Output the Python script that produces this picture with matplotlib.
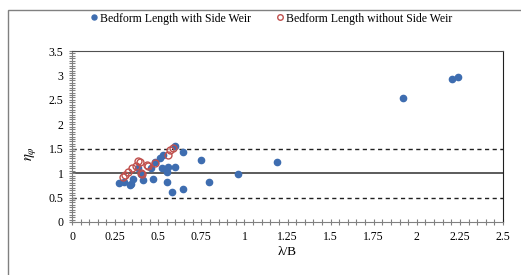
import matplotlib.pyplot as plt
from matplotlib.patches import Rectangle
from matplotlib.ticker import MultipleLocator, FuncFormatter

plt.rcParams['font.family'] = ['Liberation Serif', 'DejaVu Serif']
plt.rcParams['mathtext.fontset'] = 'stix'

# with side weir (filled blue)
with_x = [0.274, 0.30, 0.336, 0.342, 0.356, 0.385, 0.40, 0.414, 0.46, 0.47, 0.48, 0.51, 0.52,
          0.53, 0.549, 0.553, 0.559, 0.578, 0.597, 0.597, 0.642, 0.646, 0.748, 0.797, 0.961,
          1.19, 1.92, 2.206, 2.24]
with_y = [0.79, 0.82, 0.76, 0.78, 0.89, 1.10, 0.98, 0.86, 1.10, 0.89, 1.23, 1.30, 1.10,
          1.37, 1.03, 0.81, 1.13, 0.61, 1.12, 1.56, 1.44, 0.67, 1.27, 0.81, 0.99,
          1.22, 2.53, 2.92, 2.97]

# without side weir (hollow red)
without_x = [0.298, 0.31, 0.327, 0.346, 0.37, 0.385, 0.394, 0.40, 0.404, 0.433, 0.443, 0.48,
             0.559, 0.568, 0.588]
without_y = [0.93, 0.97, 1.03, 1.10, 1.15, 1.25, 1.23, 1.0, 0.975, 1.17, 1.15, 1.2,
             1.37, 1.47, 1.52]

fig = plt.figure(figsize=(5.21, 2.75), dpi=100)
fig.patches.append(Rectangle((8 / 521, -0.1), 1.2, 1 - 10 / 275 + 0.1, transform=fig.transFigure,
                             fill=False, edgecolor='#808080', lw=1.0))
ax = fig.add_axes([72 / 521, 1 - 222 / 275, 431 / 521, 171 / 275])

ax.axhline(1.0, color='#404040', lw=1.2, zorder=1)
ax.axhline(0.5, color='#202020', lw=1.0, ls=(0, (3, 2.5)), zorder=1)
ax.axhline(1.5, color='#202020', lw=1.0, ls=(0, (3, 2.5)), zorder=1)

ax.plot(with_x, with_y, 'o', color='#3E6DB0', ms=4.5, ls='none', label='Bedform Length with Side Weir', zorder=3)
ax.plot(without_x, without_y, 'o', mfc='none', mec='#C0504D', mew=1.0, ms=5, ls='none',
        label='Bedform Length without Side Weir', zorder=4)

ax.set_xlim(0, 2.5)
ax.set_ylim(0, 3.5)
ax.xaxis.set_major_locator(MultipleLocator(0.25))
ax.xaxis.set_minor_locator(MultipleLocator(0.05))
ax.yaxis.set_major_locator(MultipleLocator(0.5))
ax.yaxis.set_minor_locator(MultipleLocator(0.05))
fmt = FuncFormatter(lambda v, p: '{:g}'.format(round(v, 2)))
ax.xaxis.set_major_formatter(fmt)
ax.yaxis.set_major_formatter(fmt)
ax.tick_params(which='both', direction='inout', color='#808080', labelsize=8.5, width=0.8)
ax.tick_params(which='major', length=5)
ax.tick_params(which='minor', length=4)
ax.tick_params(axis='x', pad=4)
for s in ['left', 'bottom']:
    ax.spines[s].set_color('#808080')
ax.spines['top'].set_color('#505050')
ax.spines['right'].set_color('#202020')

ax.set_xlabel('λ/B', fontsize=9.5, labelpad=2)
ax.set_ylabel(r'$\eta_{\varphi}$', fontsize=10.5)
ax.yaxis.set_label_coords(-0.078, 0.4)

ax.legend(loc='center', bbox_to_anchor=(0.46, 1.19), ncol=2, frameon=False, fontsize=8.5,
          handletextpad=0.0, columnspacing=2.0, handlelength=1.0, markerscale=0.8)

fig.savefig('out.png', dpi=100)
